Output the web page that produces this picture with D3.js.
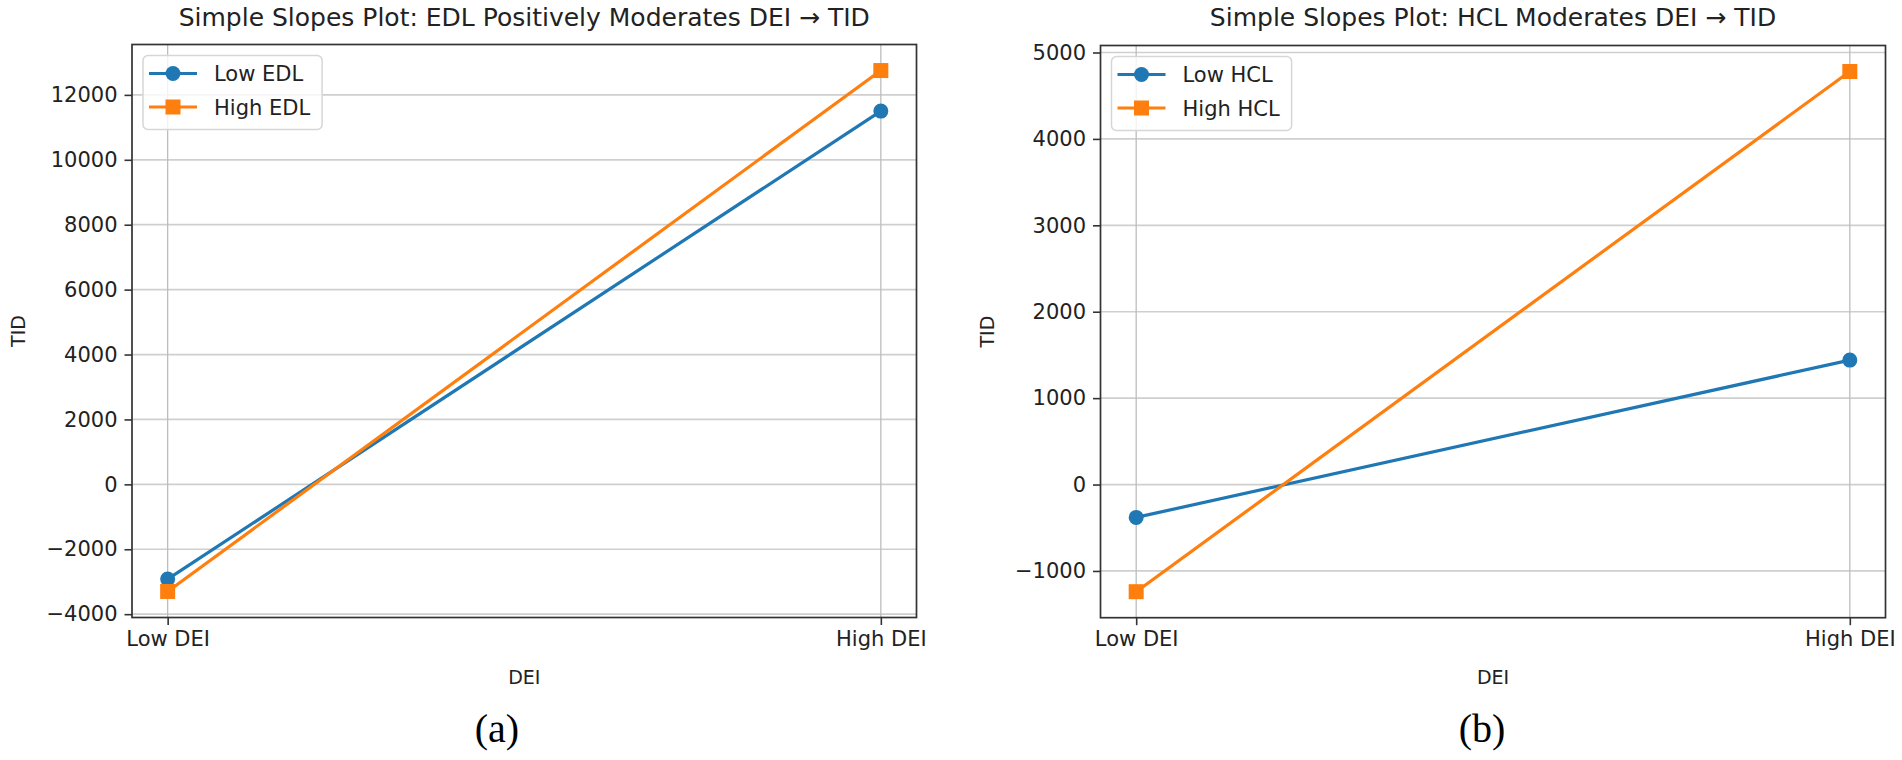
<!DOCTYPE html>
<html>
<head>
<meta charset="utf-8">
<script src="https://cdn.jsdelivr.net/npm/d3@7"></script>
<style>
  body { margin: 0; background: #fff; }
  text { font-family: "DejaVu Sans", sans-serif; fill: #222; }
</style>
</head>
<body>
<svg id="chart" width="1902" height="760"></svg>
<script>
// values
const xCategories = ["Low DEI", "High DEI"];

const edlLow = [-2920, 11500];
const edlHigh = [-3300, 12750];
const edlTicks = [-4000, -2000, 0, 2000, 4000, 6000, 8000, 10000, 12000];

const hclLow = [-380, 1440];
const hclHigh = [-1240, 4780];
const hclTicks = [-1000, 0, 1000, 2000, 3000, 4000, 5000];

const blue = "#1f77b4", orange = "#ff7f0e";
const svg = d3.select("#chart");

const drawPanel = (p) => {
  const width = p.right - p.left, height = p.bottom - p.top;
  const g = svg.append("g").attr("transform", "translate(" + p.left + "," + p.top + ")");

  const x = d3.scalePoint().domain(xCategories).range([0, width]).padding(0.05);

  // matplotlib style 5% margins
  const all = p.series.flatMap(s => s.values);
  const lo = d3.min(all), hi = d3.max(all), pad = (hi - lo) * 0.05;
  const y = d3.scaleLinear().domain([lo - pad, hi + pad]).range([height, 0]);

  // grid
  g.append("g").selectAll("line").data(p.ticks).enter().append("line")
    .attr("x1", 0).attr("x2", width)
    .attr("y1", d => y(d)).attr("y2", d => y(d))
    .attr("stroke", "#cfcfcf").attr("stroke-width", 1.7);
  g.append("g").selectAll("line").data(xCategories).enter().append("line")
    .attr("x1", d => x(d)).attr("x2", d => x(d))
    .attr("y1", 0).attr("y2", height)
    .attr("stroke", "#bdbdbd").attr("stroke-width", 1.3);

  // axes
  const yAxis = g.append("g")
    .call(d3.axisLeft(y).tickValues(p.ticks).tickSize(7.5).tickPadding(7).tickFormat(d => d < 0 ? "\u2212" + Math.abs(d) : d));
  const xAxis = g.append("g").attr("transform", "translate(0," + height + ")")
    .call(d3.axisBottom(x).tickSize(7.5).tickPadding(6));
  [yAxis, xAxis].forEach(a => {
    a.select(".domain").remove();
    a.selectAll("line").attr("stroke", "#333").attr("stroke-width", 1.6);
    a.selectAll("text").style("font-size", "21px").attr("fill", "#222");
  });

  // lines and markers
  p.series.forEach(s => {
    const pts = s.values.map((v, i) => [x(xCategories[i]), y(v)]);
    g.append("path").attr("d", d3.line()(pts))
      .attr("fill", "none").attr("stroke", s.color).attr("stroke-width", 3.2);
    if (s.shape === "circle") {
      g.selectAll(null).data(pts).enter().append("circle")
        .attr("cx", d => d[0]).attr("cy", d => d[1]).attr("r", 7.5).attr("fill", s.color);
    } else {
      g.selectAll(null).data(pts).enter().append("rect")
        .attr("x", d => d[0] - 7.5).attr("y", d => d[1] - 7.5)
        .attr("width", 15).attr("height", 15).attr("fill", s.color);
    }
  });

  // frame
  g.append("rect").attr("width", width).attr("height", height)
    .attr("fill", "none").attr("stroke", "#333").attr("stroke-width", 1.7);

  // legend
  const leg = g.append("g").attr("transform", "translate(11,11)");
  const box = leg.append("rect").attr("rx", 5).attr("ry", 5)
    .attr("fill", "#fff").attr("fill-opacity", 0.8)
    .attr("stroke", "#d6d6d6").attr("stroke-width", 1.5);
  let maxW = 0;
  p.series.forEach((s, i) => {
    const cy = 18 + i * 33.5;
    leg.append("line").attr("x1", 6).attr("x2", 54).attr("y1", cy).attr("y2", cy)
      .attr("stroke", s.color).attr("stroke-width", 3.2);
    if (s.shape === "circle") {
      leg.append("circle").attr("cx", 30).attr("cy", cy).attr("r", 7.5).attr("fill", s.color);
    } else {
      leg.append("rect").attr("x", 22.5).attr("y", cy - 7.5).attr("width", 15).attr("height", 15).attr("fill", s.color);
    }
    const t = leg.append("text").attr("x", 71).attr("y", cy).attr("dy", "0.36em")
      .style("font-size", "21px").text(s.name);
    maxW = Math.max(maxW, t.node().getComputedTextLength());
  });
  box.attr("width", 71 + maxW + 12).attr("height", 74);

  // titles
  svg.append("text").attr("x", p.left + width / 2).attr("y", 26)
    .attr("text-anchor", "middle").style("font-size", "25px").text(p.title);
  svg.append("text").attr("x", p.left + width / 2).attr("y", 684)
    .attr("text-anchor", "middle").style("font-size", "19px").text("DEI");
  svg.append("text")
    .attr("transform", "translate(" + (p.left - 107) + "," + (p.top + height / 2) + ") rotate(-90)")
    .attr("text-anchor", "middle").style("font-size", "19px").text("TID");
  svg.append("text").attr("x", p.captionX).attr("y", 742)
    .attr("text-anchor", "middle")
    .style("font-family", "'Liberation Serif', serif").style("font-size", "40px").style("fill", "#000")
    .text(p.caption);
};

drawPanel({
  left: 132, top: 44.5, right: 916.5, bottom: 617.5,
  title: "Simple Slopes Plot: EDL Positively Moderates DEI \u2192 TID",
  ticks: edlTicks, caption: "(a)", captionX: 497,
  series: [
    { name: "Low EDL", values: edlLow, color: blue, shape: "circle" },
    { name: "High EDL", values: edlHigh, color: orange, shape: "square" }
  ]
});

drawPanel({
  left: 1100.5, top: 45.5, right: 1885.5, bottom: 617.7,
  title: "Simple Slopes Plot: HCL Moderates DEI \u2192 TID",
  ticks: hclTicks, caption: "(b)", captionX: 1482,
  series: [
    { name: "Low HCL", values: hclLow, color: blue, shape: "circle" },
    { name: "High HCL", values: hclHigh, color: orange, shape: "square" }
  ]
});
</script>
</body>
</html>
